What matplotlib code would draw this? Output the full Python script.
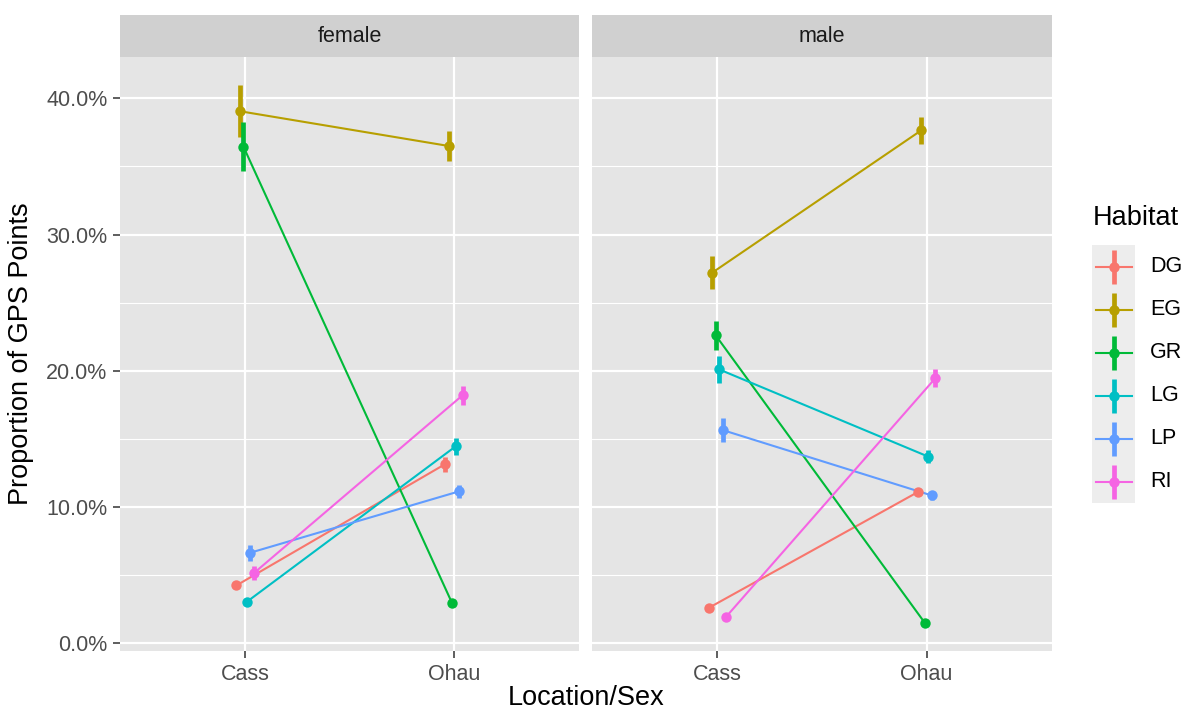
import matplotlib
matplotlib.use('Agg')
import matplotlib.pyplot as plt
from matplotlib.ticker import FuncFormatter, MultipleLocator, FixedLocator
import numpy as np

plt.rcParams['font.family'] = ['Liberation Sans', 'DejaVu Sans']

# ---------------- data ----------------
habitats = ['DG', 'EG', 'GR', 'LG', 'LP', 'RI']
colors = ['#F8766D', '#B79F00', '#00BA38', '#00BFC4', '#619CFF', '#F564E3']
locations = ['Cass', 'Ohau']
sexes = ['female', 'male']

# mean proportion (%) per habitat
female_cass = [4.25, 39.05, 36.45, 3.05, 6.65, 5.15]
female_ohau = [13.15, 36.5, 2.95, 14.45, 11.15, 18.2]
male_cass = [2.6, 27.2, 22.6, 20.1, 15.65, 1.95]
male_ohau = [11.1, 37.65, 1.5, 13.7, 10.85, 19.45]

# error (± %) per habitat
female_cass_err = [0.3, 1.9, 1.8, 0.3, 0.6, 0.5]
female_ohau_err = [0.55, 1.1, 0.25, 0.6, 0.5, 0.7]
male_cass_err = [0.25, 1.2, 1.05, 1.0, 0.85, 0.25]
male_ohau_err = [0.3, 1.0, 0.25, 0.5, 0.35, 0.65]

y_ticks = [0.0, 0.1, 0.2, 0.3, 0.4]

panel_data = {
    'female': (female_cass, female_ohau, female_cass_err, female_ohau_err),
    'male': (male_cass, male_ohau, male_cass_err, male_ohau_err),
}

# ---------------- layout ----------------
W, H = 1191, 715
fig = plt.figure(figsize=(W / 100, H / 100), dpi=100)


def px_axes(l, t, r, b):
    return fig.add_axes([l / W, 1 - b / H, (r - l) / W, (b - t) / H])


panels = [(120, 579), (592, 1052)]
top, bottom = 57, 651
strip_top = 15

PANEL_BG = '#E5E5E5'
STRIP_BG = '#D0D0D0'
TICK_COL = '#4D4D4D'

LINE_W = 1.5
ERR_W = 3.4
MS = 7.5

n = len(habitats)
dodge = 0.1
offsets = [-dodge / 2 + (i + 0.5) * dodge / n for i in range(n)]

pct = FuncFormatter(lambda v, p: f"{v * 100:.1f}%")

for k, sex in enumerate(sexes):
    l, r = panels[k]
    ax = px_axes(l, top, r, bottom)
    ax.set_facecolor(PANEL_BG)
    ax.set_xlim(0.4, 2.6)
    ax.set_ylim(-0.00565, 0.4303)
    for s in ax.spines.values():
        s.set_visible(False)
    ax.yaxis.set_major_locator(FixedLocator(y_ticks))
    ax.yaxis.set_minor_locator(MultipleLocator(0.05))
    ax.yaxis.set_major_formatter(pct)
    ax.set_xticks([1, 2])
    ax.set_xticklabels(locations)
    ax.set_axisbelow(True)
    ax.grid(which='major', color='white', lw=1.6)
    ax.grid(which='minor', axis='y', color='white', lw=0.8)
    ax.tick_params(axis='both', which='major', length=5, width=1.1, color='#333333',
                   labelsize=15.5, labelcolor=TICK_COL, pad=4)
    ax.tick_params(axis='y', which='minor', length=0)
    if k == 1:
        ax.tick_params(axis='y', which='major', left=False, labelleft=False)

    cass, ohau, cerr, oerr = panel_data[sex]
    for i in range(n):
        x = np.array([1, 2]) + offsets[i]
        y = np.array([cass[i], ohau[i]]) / 100
        ax.plot(x, y, color=colors[i], lw=LINE_W, zorder=3, solid_capstyle='butt')
    for i in range(n):
        x = np.array([1, 2]) + offsets[i]
        y = np.array([cass[i], ohau[i]]) / 100
        e = np.array([cerr[i], oerr[i]]) / 100
        ax.vlines(x, y - e, y + e, color=colors[i], lw=ERR_W, zorder=4)
        ax.plot(x, y, 'o', color=colors[i], ms=MS, zorder=5, mew=0)

    sax = px_axes(l, strip_top, r, top)
    sax.set_facecolor(STRIP_BG)
    sax.set_xticks([]); sax.set_yticks([])
    for s in sax.spines.values():
        s.set_visible(False)
    sax.text(0.5, 0.5, sex, ha='center', va='center', fontsize=15.5, color='#1A1A1A',
             transform=sax.transAxes)

fig.text(21 / W, 1 - 354 / H, 'Proportion of GPS Points', rotation=90, ha='center',
         va='center', fontsize=19.5, color='black')
fig.text(586 / W, 1 - 698 / H, 'Location/Sex', ha='center', va='center',
         fontsize=19.5, color='black')

# ---------------- legend ----------------
lax = fig.add_axes([0, 0, 1, 1])
lax.set_xlim(0, W)
lax.set_ylim(H, 0)
lax.axis('off')
lax.patch.set_visible(False)
lax.text(1093, 218, 'Habitat', ha='left', va='center', fontsize=19.5, color='black')
key_l, key_r, key_t, key_h = 1092, 1135, 245, 43
lax.add_patch(plt.Rectangle((key_l, key_t), key_r - key_l, key_h * n,
                            facecolor='#EDEDED', edgecolor='none'))
cx = (key_l + key_r) / 2
for i in range(n):
    cy = key_t + key_h * (i + 0.5)
    lax.plot([key_l + 4, key_r - 3], [cy, cy], color=colors[i], lw=LINE_W)
    lax.plot([cx, cx], [cy - 17, cy + 17], color=colors[i], lw=ERR_W, solid_capstyle='butt')
    lax.plot([cx], [cy], 'o', color=colors[i], ms=MS, mew=0)
    lax.text(1150, cy, habitats[i], ha='left', va='center', fontsize=15.5, color='black')

fig.savefig('out.png', dpi=100)
